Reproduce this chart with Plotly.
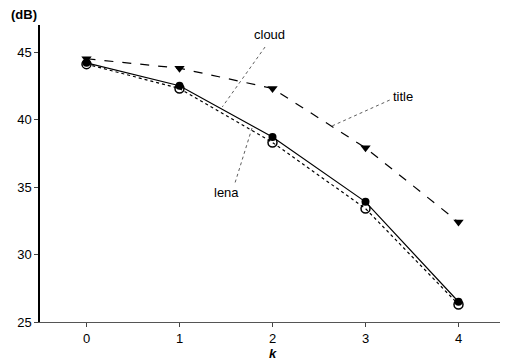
import plotly.graph_objects as go

k = [0, 1, 2, 3, 4]
title_db = [44.5, 43.8, 42.3, 37.9, 32.4]
cloud_db = [44.2, 42.5, 38.7, 33.9, 26.5]
lena_db = [44.1, 42.3, 38.3, 33.4, 26.3]
x_ticks = [0, 1, 2, 3, 4]
y_ticks = [25, 30, 35, 40, 45]

fig = go.Figure()
fig.add_trace(go.Scatter(x=k, y=title_db, mode="lines+markers",
                         line=dict(color="black", width=1.2, dash="dash"),
                         marker=dict(symbol="triangle-down", size=9, color="black")))
fig.add_trace(go.Scatter(x=k, y=lena_db, mode="lines+markers",
                         line=dict(color="black", width=1.2, dash="dot"),
                         marker=dict(symbol="circle-open", size=9, color="black",
                                     line=dict(width=1.5))))
fig.add_trace(go.Scatter(x=k, y=cloud_db, mode="lines+markers",
                         line=dict(color="black", width=1.2),
                         marker=dict(symbol="circle", size=8, color="black")))

font = dict(family="Liberation Sans, Arial, sans-serif", size=13, color="black")

# leader lines
leaders = [
    (1.92, 45.37, 1.46, 40.93),
    (3.26, 41.44, 2.64, 39.52),
    (1.78, 39.37, 1.59, 35.15),
]
for x0, y0, x1, y1 in leaders:
    fig.add_shape(type="line", x0=x0, y0=y0, x1=x1, y1=y1,
                  line=dict(color="#333", width=0.8, dash="dot"))

fig.add_annotation(x=1.97, y=46.26, text="cloud", showarrow=False, font=font)
fig.add_annotation(x=3.4, y=41.74, text="title", showarrow=False, font=font)
fig.add_annotation(x=1.51, y=34.56, text="lena", showarrow=False, font=font)

fig.add_annotation(xref="paper", yref="paper", x=-0.034, y=1.035, text="<b>(dB)</b>",
                   showarrow=False, font=font, xanchor="center", yanchor="middle")
fig.add_annotation(xref="paper", yref="paper", x=0.5, y=-0.105, text="<b><i>k</i></b>",
                   showarrow=False, font=font, xanchor="center", yanchor="middle")

fig.update_layout(
    width=500, height=352,
    margin=dict(l=32, r=3, t=17, b=38, autoexpand=False),
    paper_bgcolor="white", plot_bgcolor="white",
    showlegend=False,
    font=font,
    xaxis=dict(range=[-0.5, 4.5], tickvals=x_ticks, ticks="outside", ticklen=4,
               showline=True, linecolor="#555", linewidth=1, showgrid=False,
               zeroline=False),
    yaxis=dict(range=[25, 47], tickvals=y_ticks, ticks="outside", ticklen=4,
               showline=True, linecolor="black", linewidth=1.5, showgrid=False,
               zeroline=False),
)

fig.write_html("out.html")
